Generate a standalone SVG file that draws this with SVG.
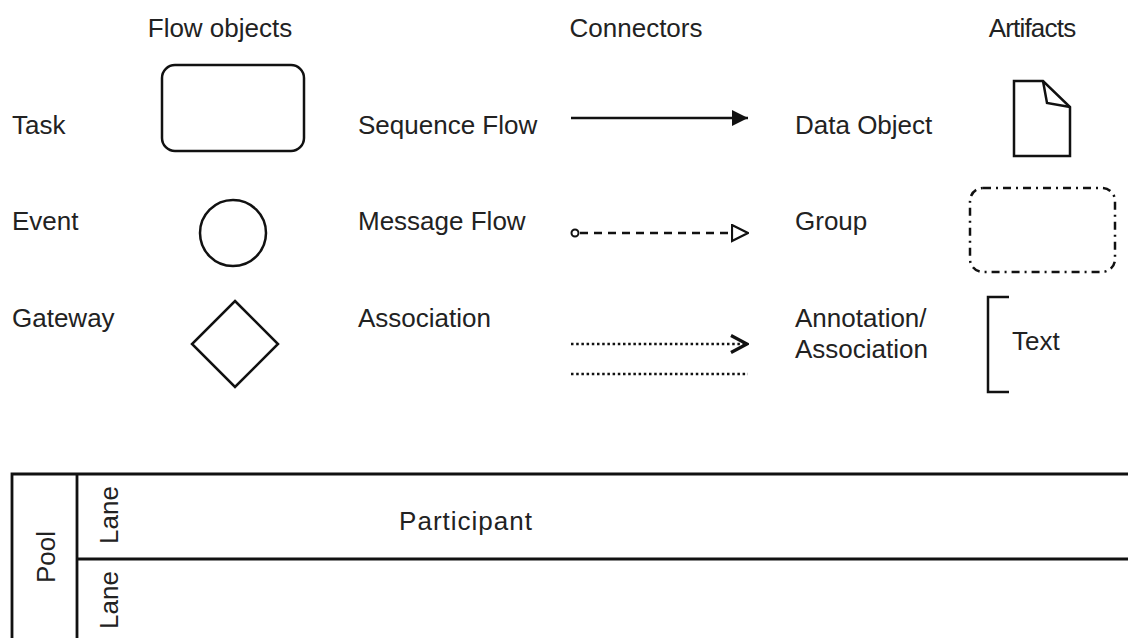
<svg xmlns="http://www.w3.org/2000/svg" width="1128" height="638" viewBox="0 0 1128 638">
<style>
text{font-family:"Liberation Sans",Arial,sans-serif;font-size:26px;fill:#222}
.s{fill:none;stroke:#111;stroke-width:2.5}
.w{fill:#fff;stroke:#111;stroke-width:2.5}
</style>
<defs>
<marker id="seq" markerWidth="16" markerHeight="16" refX="16" refY="8" orient="auto" markerUnits="userSpaceOnUse"><path d="M0,0 L16,8 L0,16 Z" fill="#111"/></marker>
<marker id="msg" markerWidth="18" markerHeight="20" refX="17" refY="9" orient="auto" markerUnits="userSpaceOnUse"><path d="M1,1 L17,9 L1,17 Z" fill="#fff" stroke="#111" stroke-width="2.2"/></marker>
<marker id="asc" markerWidth="20" markerHeight="22" refX="18" refY="10" orient="auto" markerUnits="userSpaceOnUse"><path d="M2,1.5 L18,10 L2,18.5" fill="none" stroke="#111" stroke-width="3.2"/></marker>
</defs>
<rect width="1128" height="638" fill="#fff"/>
<g id="headers">
<text x="220" y="37" text-anchor="middle">Flow objects</text>
<text x="636" y="37" text-anchor="middle">Connectors</text>
<text x="1032" y="37" text-anchor="middle" letter-spacing="-0.8">Artifacts</text>
</g>
<g id="labels">
<text x="12" y="134">Task</text>
<text x="12" y="230">Event</text>
<text x="12" y="327">Gateway</text>
<text x="358" y="134">Sequence Flow</text>
<text x="358" y="230">Message Flow</text>
<text x="358" y="327">Association</text>
<text x="795" y="134">Data Object</text>
<text x="795" y="230">Group</text>
<text x="795" y="327">Annotation/</text>
<text x="795" y="358">Association</text>
</g>
<g id="task"><rect class="w" x="162" y="65" width="142" height="86" rx="13"/></g>
<g id="event"><circle class="w" cx="233" cy="233" r="33"/></g>
<g id="gateway"><path class="w" d="M235,301 L278,344 L235,387 L192,344 Z"/></g>
<g id="connectors">
<line class="s" x1="571" y1="118" x2="748" y2="118" marker-end="url(#seq)"/>
<circle cx="575" cy="233" r="3.5" fill="#fff" stroke="#111" stroke-width="2"/>
<line class="s" x1="580" y1="233" x2="748" y2="233" stroke-dasharray="8 6" marker-end="url(#msg)"/>
<line class="s" x1="571" y1="344" x2="747" y2="344" stroke-dasharray="2.5 2.7" marker-end="url(#asc)"/>
<line class="s" x1="571" y1="374" x2="748" y2="374" stroke-dasharray="2.5 2.7"/>
</g>
<g id="data-object">
<path class="w" d="M1014,81 L1043,81 L1070,107 L1070,156 L1014,156 Z"/>
<path class="s" d="M1043,81 L1047,103 L1070,107"/>
</g>
<g id="group"><rect class="s" x="970" y="188" width="145" height="84" rx="13" stroke-dasharray="8 5 2 5"/></g>
<g id="annotation">
<path class="s" d="M1009,297 L988,297 L988,392 L1009,392"/>
<text x="1012" y="350">Text</text>
</g>
<g id="pool">
<path fill="none" stroke="#111" stroke-width="2.8" d="M12,640 L12,474 L1130,474 M77,474 L77,640 M77,559 L1130,559"/>
<text x="55" y="557" text-anchor="middle" transform="rotate(-90 55 557)">Pool</text>
<text x="118" y="515" text-anchor="middle" transform="rotate(-90 118 515)">Lane</text>
<text x="118" y="600" text-anchor="middle" transform="rotate(-90 118 600)">Lane</text>
<text x="466" y="530" text-anchor="middle" letter-spacing="1">Participant</text>
</g>
</svg>
